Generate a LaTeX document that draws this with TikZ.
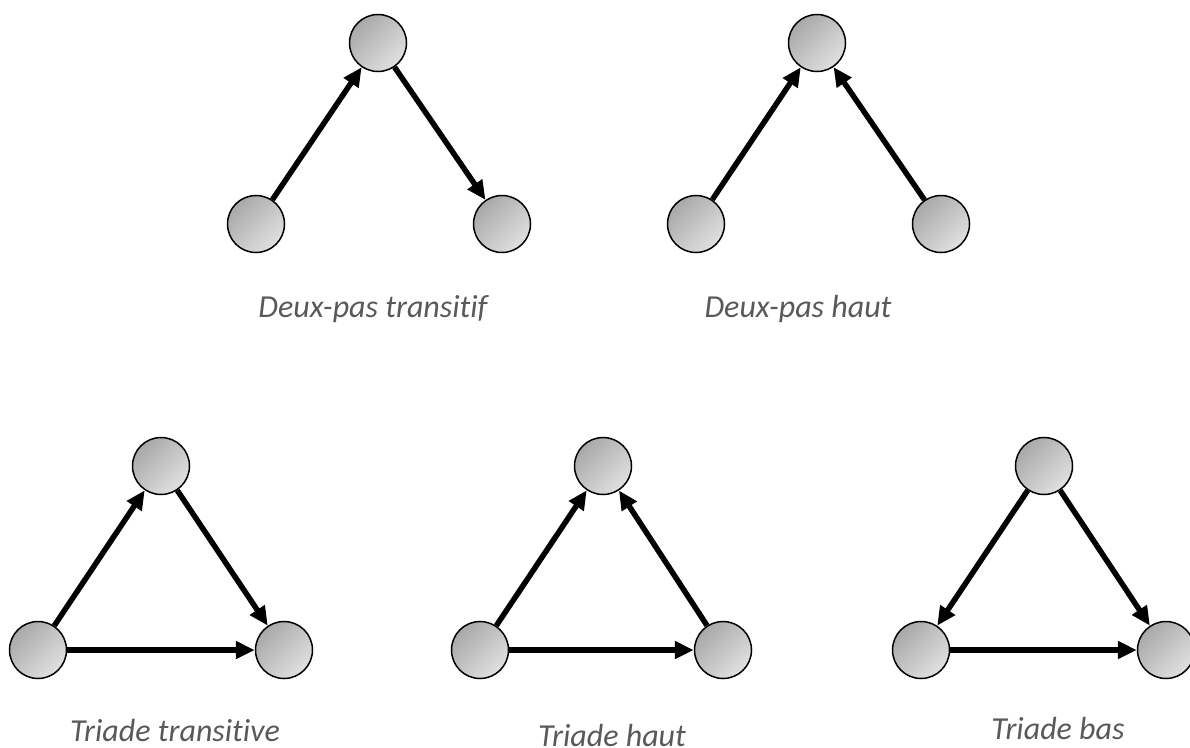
\documentclass[tikz,border=0pt]{standalone}
\usepackage{fontspec}
\setmainfont{Carlito}[Ligatures={NoCommon}]
\usetikzlibrary{arrows.meta}
\definecolor{labelgray}{HTML}{595959}
\tikzset{
  vertex/.style={circle, draw=black, line width=1.5pt, minimum size=57pt, inner sep=0pt,
    top color=black!34, bottom color=black!12, shading angle=45},
  tie/.style={line width=5.5pt, -{Triangle[length=19pt,width=17pt]}},
  caption/.style={anchor=base, text=labelgray, inner sep=0pt, font=\fontsize{32}{38}\selectfont\itshape}
}
\begin{document}
\begin{tikzpicture}[x=1pt,y=-1pt]
\useasboundingbox (0,0) rectangle (1190,747);
% Deux-pas transitif
\node[vertex] (a1) at (378,43) {};
\node[vertex] (a2) at (256,224) {};
\node[vertex] (a3) at (502,224) {};
\draw[tie] (a2) -- (a1);
\draw[tie] (a1) -- (a3);
\node[caption] (la) at (373,317) {Deux-pas transitif};
% Deux-pas haut
\node[vertex] (b1) at (817,43) {};
\node[vertex] (b2) at (696,224) {};
\node[vertex] (b3) at (941,224) {};
\draw[tie] (b2) -- (b1);
\draw[tie] (b3) -- (b1);
\node[caption] (lb) at (798,317) {Deux-pas haut};
% Triade transitive
\node[vertex] (c1) at (161,466) {};
\node[vertex] (c2) at (38,650) {};
\node[vertex] (c3) at (284,650) {};
\draw[tie] (c2) -- (c1);
\draw[tie] (c1) -- (c3);
\draw[tie] (c2) -- (c3);
\node[caption] (lc) at (175,741) {Triade transitive};
% Triade haut
\node[vertex] (d1) at (603,466) {};
\node[vertex] (d2) at (480,650) {};
\node[vertex] (d3) at (723,650) {};
\draw[tie] (d2) -- (d1);
\draw[tie] (d3) -- (d1);
\draw[tie] (d2) -- (d3);
\node[caption] (ld) at (612,746) {Triade haut};
% Triade bas
\node[vertex] (e1) at (1044,466) {};
\node[vertex] (e2) at (921,650) {};
\node[vertex] (e3) at (1166,650) {};
\draw[tie] (e1) -- (e2);
\draw[tie] (e1) -- (e3);
\draw[tie] (e2) -- (e3);
\node[caption] (le) at (1058,739) {Triade bas};
\end{tikzpicture}
\end{document}
